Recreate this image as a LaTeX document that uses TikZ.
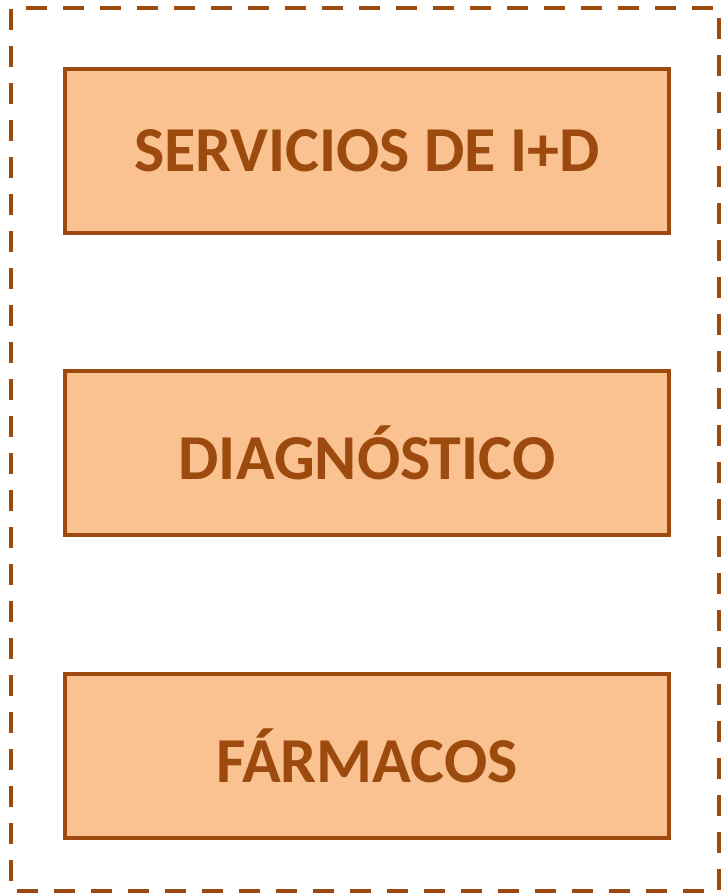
\documentclass[tikz,border=0pt]{standalone}
\usepackage{fontspec}
\setmainfont{Carlito}
\usepackage{tikz}
\usetikzlibrary{calc}
\definecolor{boxfill}{HTML}{F9C290}
\definecolor{boxline}{HTML}{9C4A0E}

\begin{document}
\begin{tikzpicture}[x=1pt,y=-1pt]
\tikzstyle{area}=[rectangle,fill=boxfill,draw=boxline,line width=4.5pt,minimum width=604pt,minimum height=164pt,inner sep=0pt,
  font=\fontsize{64}{64}\selectfont\bfseries,text=boxline]

\useasboundingbox (0,0) rectangle (721,894);
\draw[boxline,line width=3.5pt,dash pattern=on 21pt off 16pt,dash phase=-1pt] (11,8) rectangle (719,891); % outer frame

\node[area] (servicios)   at (367,151) {SERVICIOS DE I+D};
\node[area] (diagnostico) at (367,453) {DIAGNÓSTICO};
\node[area] (farmacos)    at (367,756) {FÁRMACOS};
\end{tikzpicture}
\end{document}
